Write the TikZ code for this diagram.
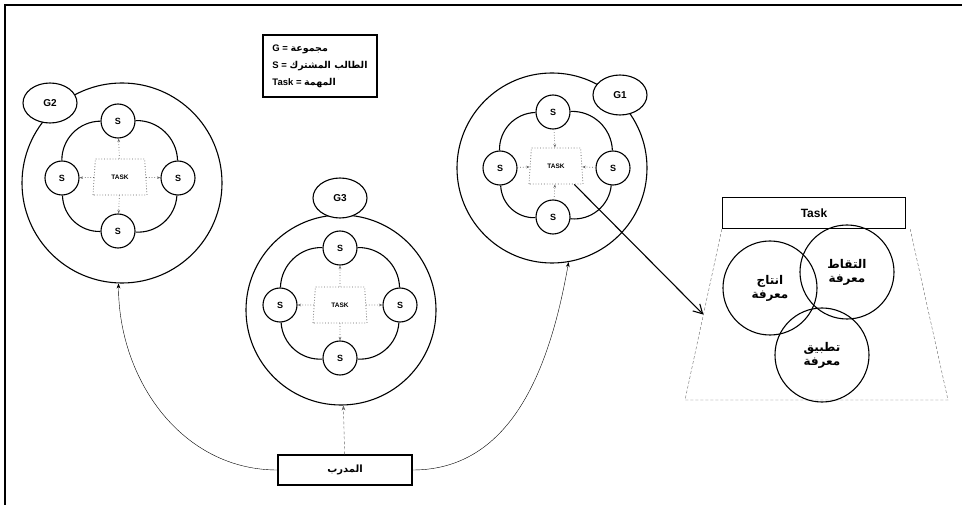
\documentclass[tikz,border=0pt]{standalone}
\usepackage{fontspec}
\setmainfont{Liberation Sans}
\newfontfamily\arabicfont[Script=Arabic]{DejaVu Sans}
\TeXXeTstate=1
\usetikzlibrary{
    shapes.geometric,
    arrows.meta,
    calc,
    positioning
}
\newcommand{\artext}[1]{{\arabicfont\beginR #1\endR}}

\tikzset{
    grp/.style={circle, draw, line width=1.1pt, minimum size=190},
    gtag/.style={ellipse, draw, line width=1.1pt, fill=white, minimum width=54, minimum height=40, font=\bfseries},
    stu/.style={circle, draw, line width=1.1pt, fill=white, minimum size=34, inner sep=0pt, font=\bfseries\small},
    taskshape/.style={trapezium, draw=black!60, dotted, line width=0.8pt, trapezium angle=70, trapezium stretches body, minimum width=54, minimum height=36, inner sep=1pt, font=\bfseries\fontsize{6.5}{7}\selectfont},
    taskarrow/.style={black!60, dotted, line width=0.7pt, -{Stealth[length=3.5pt]}},
    ringarc/.style={line width=1.1pt, bend right=45},
    know/.style={circle, draw, line width=1.1pt, minimum size=94, align=center, font=\arabicfont\bfseries\large}
}

\begin{document}
\begin{tikzpicture}[x=1pt, y=1pt]
    \useasboundingbox (0,0) rectangle (962,-505);
    \draw[line width=1.5pt] (5,-505) -- (5,-5) -- (962,-5);

    % legend
    \node[draw, line width=1.2pt, minimum width=114, minimum height=62, inner sep=4pt, align=left, font=\bfseries\fontsize{9.5}{17}\selectfont] (legend) at (320,-66)
        {G = \artext{مجموعة}\\S = \artext{الطالب المشترك}\\Task = \artext{المهمة}};

    % group G2
    \node[grp, minimum size=200] (g2) at (122,-183) {};
    \node[gtag] (g2tag) at (50,-103) {G2};
    \node[taskshape] (t2) at (120,-177) {TASK};
    \node[stu] (s2n) at (118,-121) {S};
    \node[stu] (s2w) at (62,-178) {S};
    \node[stu] (s2e) at (178,-178) {S};
    \node[stu] (s2s) at (118,-231) {S};
    \draw[ringarc] (s2n) to (s2w) (s2w) to (s2s) (s2s) to (s2e) (s2e) to (s2n);
    \draw[taskarrow] (t2) -- (s2n);
    \draw[taskarrow] (t2) -- (s2w);
    \draw[taskarrow] (t2) -- (s2e);
    \draw[taskarrow] (t2) -- (s2s);

    % group G3
    \node[grp] (g3) at (341,-310) {};
    \node[gtag] (g3tag) at (340,-198) {G3};
    \node[taskshape] (t3) at (340,-305) {TASK};
    \node[stu] (s3n) at (340,-248) {S};
    \node[stu] (s3w) at (280,-305) {S};
    \node[stu] (s3e) at (400,-305) {S};
    \node[stu] (s3s) at (340,-358) {S};
    \draw[ringarc] (s3n) to (s3w) (s3w) to (s3s) (s3s) to (s3e) (s3e) to (s3n);
    \draw[taskarrow] (t3) -- (s3n);
    \draw[taskarrow] (t3) -- (s3w);
    \draw[taskarrow] (t3) -- (s3e);
    \draw[taskarrow] (t3) -- (s3s);

    % group G1
    \node[grp] (g1) at (552,-168) {};
    \node[gtag] (g1tag) at (620,-95) {G1};
    \node[taskshape] (t1) at (556,-166) {TASK};
    \node[stu] (s1n) at (553,-112) {S};
    \node[stu] (s1w) at (500,-168) {S};
    \node[stu] (s1e) at (613,-168) {S};
    \node[stu] (s1s) at (553,-217) {S};
    \draw[ringarc] (s1n) to (s1w) (s1w) to (s1s) (s1s) to (s1e) (s1e) to (s1n);
    \draw[taskarrow] (s1n) -- (t1);
    \draw[taskarrow] (s1w) -- (t1);
    \draw[taskarrow] (s1e) -- (t1);
    \draw[taskarrow] (s1s) -- (t1);

    % task detail
    \node[draw, line width=1.4pt, minimum width=183, minimum height=31, font=\bfseries\large] (taskhead) at (814,-213) {Task};
    \coordinate (kbl) at (685,-400);
    \coordinate (kbr) at (948,-400);
    \draw[black!60, densely dashed] (taskhead.south west) -- (kbl) -- (kbr) -- ([xshift=4]taskhead.south east);
    \coordinate (khit) at ($(taskhead.south west)!0.5!(kbl)$);
    \node[know] (kprod) at (770,-288) {\beginR انتاج\endR\\\beginR معرفة\endR};
    \node[know] (kcap) at (847,-272) {\beginR التقاط\endR\\\beginR معرفة\endR};
    \node[know] (kapp) at (822,-355) {\beginR تطبيق\endR\\\beginR معرفة\endR};
    \draw[line width=1.1pt, -{Straight Barb[length=9pt, width=10pt]}] (t1) -- (khit);

    % trainer
    \node[draw, line width=1.2pt, minimum width=134, minimum height=30, font=\arabicfont\bfseries] (trainer) at (345,-470) {\beginR المدرب\endR};
    \draw[-{Stealth[length=5pt]}] (trainer.west) to[out=180, in=-90] (g2.-92);
    \draw[-{Stealth[length=5pt]}] (trainer.east) to[out=0, in=-100] (g1.-80);
    \draw[black!60, densely dashed, -{Stealth[length=5pt]}] (trainer) -- (g3);
\end{tikzpicture}
\end{document}
